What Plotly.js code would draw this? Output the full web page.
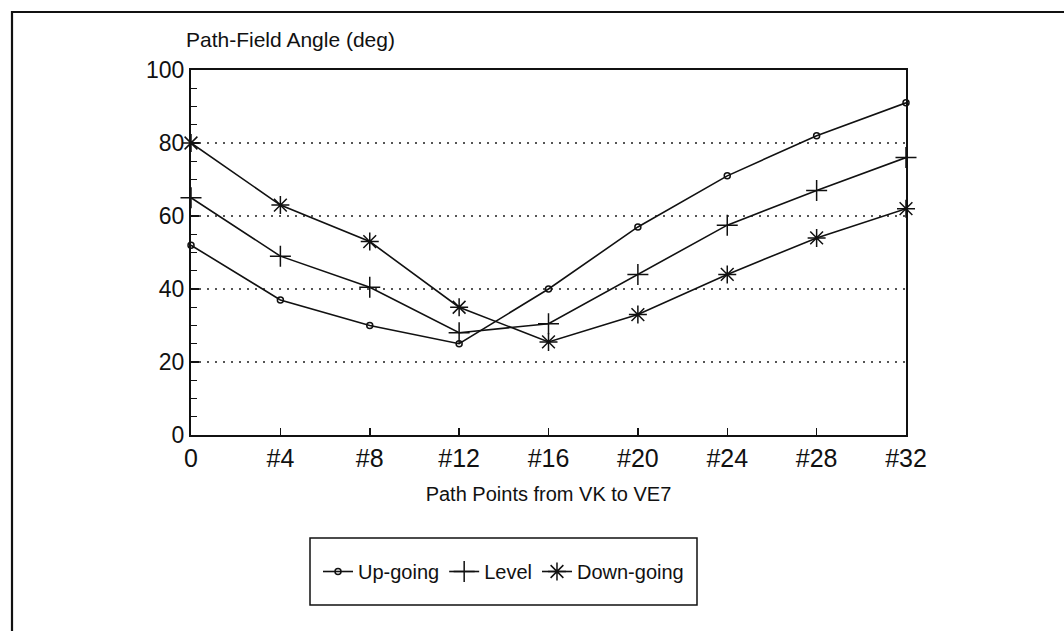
<!DOCTYPE html>
<html>
<head>
<meta charset="utf-8">
<script src="https://cdn.plot.ly/plotly-3.0.1.min.js"></script>
<style>
  html, body { margin: 0; padding: 0; background: #fff; }
  #chart { width: 1064px; height: 631px; }
</style>
</head>
<body>
<div id="chart"></div>
<script>
// Path point index along the VK -> VE7 path
const pathPoints = [0, 4, 8, 12, 16, 20, 24, 28, 32];
const pointLabels = ['0', '#4', '#8', '#12', '#16', '#20', '#24', '#28', '#32'];

// Path-field angle (deg) for each ray type
const upGoing   = [52, 37, 30, 25, 40, 57, 71, 82, 91];
const level     = [65, 49, 40.5, 28, 30.5, 44, 57.5, 67, 76];
const downGoing = [80, 63, 53, 35, 25.5, 33, 44, 54, 62];

const FONT = 'Liberation Sans, Arial, Helvetica, sans-serif';
const INK = '#111';

// plot box in pixels
const L = 191, R = 906, T = 70, B = 435, W = 1064, H = 631;
const px = x => (x - L) / (R - L);
const py = y => (B - y) / (B - T);

// legend box in pixels
const LG = { x0: 310, x1: 697, y0: 538, y1: 605 };

function series(name, y, symbol, size) {
  return {
    type: 'scatter', mode: 'lines+markers', name: name,
    x: pathPoints, y: y,
    line: { color: INK, width: 1.6 },
    marker: { symbol: symbol, size: size, color: INK, line: { color: INK, width: 1.5 } },
    cliponaxis: false
  };
}

const traces = [
  series('Up-going', upGoing, 'circle-open', 6),
  series('Level', level, 'cross-thin-open', 15),
  series('Down-going', downGoing, 'asterisk-open', 15)
];

const layout = {
  width: W, height: H,
  margin: { l: L, r: W - R, t: T, b: H - B },
  paper_bgcolor: '#fff', plot_bgcolor: '#fff',
  font: { family: FONT, color: INK, size: 20 },
  showlegend: true,
  legend: {
    orientation: 'h',
    x: (px(LG.x0) + px(LG.x1)) / 2, xanchor: 'center',
    y: (py(LG.y0) + py(LG.y1)) / 2, yanchor: 'middle',
    bgcolor: 'rgba(0,0,0,0)', borderwidth: 0,
    font: { family: FONT, size: 20, color: INK },
    itemwidth: 30
  },
  xaxis: {
    range: [0, 32],
    tickvals: pathPoints, ticktext: pointLabels,
    ticks: 'inside', ticklen: 7, tickwidth: 1.5, tickcolor: INK,
    showline: true, linecolor: INK, linewidth: 2, mirror: true,
    showgrid: false, zeroline: false,
    tickfont: { family: FONT, size: 25, color: INK },
    title: { text: 'Path Points from VK to VE7', font: { family: FONT, size: 20, color: INK }, standoff: 16 }
  },
  yaxis: {
    range: [0, 100],
    tickvals: [0, 20, 40, 60, 80, 100],
    ticks: 'inside', ticklen: 8, tickwidth: 1.5, tickcolor: INK,
    minor: { dtick: 5, tick0: 0, ticks: 'inside', ticklen: 6, tickwidth: 1.3, tickcolor: INK, showgrid: false },
    showline: true, linecolor: INK, linewidth: 2, mirror: true,
    showgrid: true, gridcolor: '#555', gridwidth: 1.2, griddash: '2px,6px',
    zeroline: false,
    tickfont: { family: FONT, size: 23, color: INK }
  },
  annotations: [{
    text: 'Path-Field Angle (deg)', xref: 'paper', yref: 'paper',
    x: px(184), y: py(40), xanchor: 'left', yanchor: 'middle',
    showarrow: false, font: { family: FONT, size: 21, color: INK }
  }],
  shapes: [
    // outer frame (left and top edges)
    { type: 'path', xref: 'paper', yref: 'paper',
      path: `M ${px(12)} ${py(H + 5)} L ${px(12)} ${py(12)} L ${px(W + 5)} ${py(12)}`,
      line: { color: INK, width: 2.2 } },
    // legend box
    { type: 'rect', xref: 'paper', yref: 'paper',
      x0: px(LG.x0), x1: px(LG.x1), y0: py(LG.y1), y1: py(LG.y0),
      line: { color: INK, width: 1.5 }, fillcolor: 'rgba(0,0,0,0)' }
  ]
};

Plotly.newPlot('chart', traces, layout, { displayModeBar: false, staticPlot: true });
</script>
</body>
</html>
